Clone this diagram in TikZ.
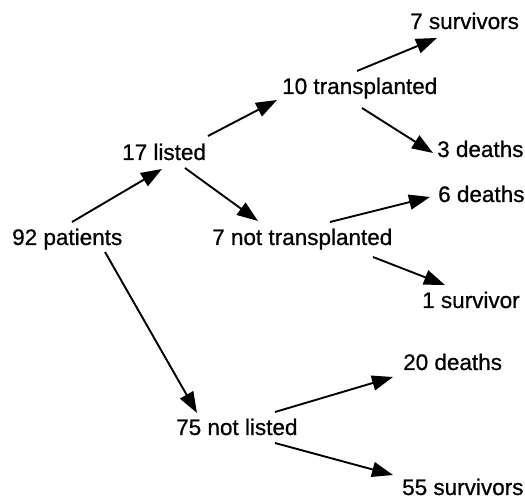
\documentclass[tikz,border=0pt]{standalone}
\usepackage{fontspec}
\setmainfont{Liberation Sans}
\newfontfamily\lblfont{Liberation Sans}[FakeBold=0.7]
\usetikzlibrary{arrows.meta}
\begin{document}
\begin{tikzpicture}[x=1pt,y=1pt,
  lbl/.style={anchor=base west,inner sep=0pt,font=\lblfont\fontsize{22.5}{27}\selectfont},
  arr/.style={line width=1.9pt,-{Triangle[length=21pt,width=15pt]}}]
\useasboundingbox (0,0) rectangle (525,500);
\node[lbl] (p) at (12,255) {92 patients};
\node[lbl] (l) at (122,340) {17 listed};
\node[lbl] (t) at (282,406) {10 transplanted};
\node[lbl] (s7) at (410,471) {7 survivors};
\node[lbl] (d3) at (437,343) {3 deaths};
\node[lbl] (nt) at (212,255) {7 not transplanted};
\node[lbl] (d6) at (438,298) {6 deaths};
\node[lbl] (s1) at (422,192) {1 survivor};
\node[lbl] (nl) at (176,65) {75 not listed};
\node[lbl] (d20) at (403,130) {20 deaths};
\node[lbl] (s55) at (402,5) {55 survivors};
\draw[arr] ([shift={(60,23)}]p.base west) -- ([shift={(40,-9)}]l.base west);
\draw[arr] ([shift={(86,24)}]l.base west) -- ([shift={(-5,-6)}]t.base west);
\draw[arr] ([shift={(63,-8)}]l.base west) -- ([shift={(46,24)}]nt.base west);
\draw[arr] ([shift={(75,23)}]t.base west) -- ([shift={(27,-9)}]s7.base west);
\draw[arr] ([shift={(80,-14)}]t.base west) -- ([shift={(-4,4)}]d3.base west);
\draw[arr] ([shift={(118,23)}]nt.base west) -- ([shift={(-8,5)}]d6.base west);
\draw[arr] ([shift={(161,-12)}]nt.base west) -- ([shift={(23,23)}]s1.base west);
\draw[arr] ([shift={(93,-7)}]p.base west) -- ([shift={(21,22)}]nl.base west);
\draw[arr] ([shift={(99,23)}]nl.base west) -- ([shift={(-10,-7)}]d20.base west);
\draw[arr] ([shift={(99,-8)}]nl.base west) -- ([shift={(-9,20)}]s55.base west);
\end{tikzpicture}
\end{document}
